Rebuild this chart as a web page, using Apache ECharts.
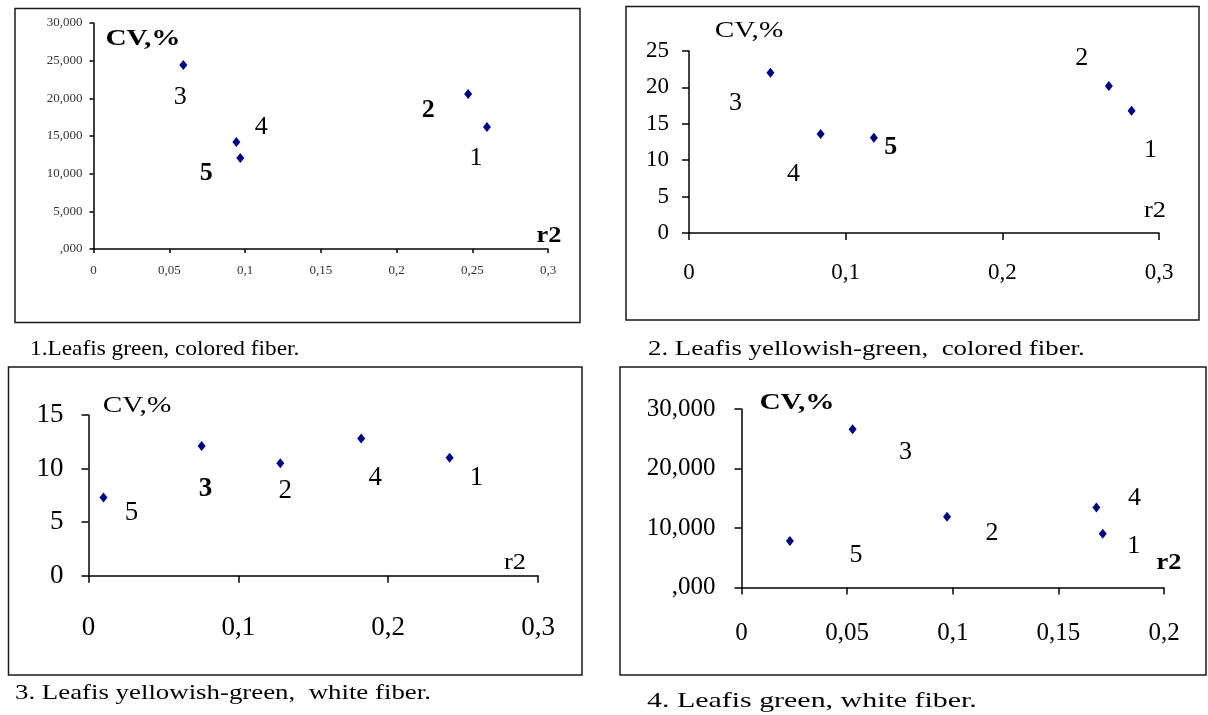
<!DOCTYPE html>
<html>
<head>
<meta charset="utf-8">
<script src="https://cdn.jsdelivr.net/npm/echarts@6/dist/echarts.min.js"></script>
<style>
  html, body { margin: 0; padding: 0; background: #fff; }
  #chart { width: 1208px; height: 715px; }
</style>
</head>
<body>
<div id="chart"></div>
<script>
// points are given in order 1..5
const pointNames = ['1', '2', '3', '4', '5']

// 1. leaf green, colored fiber
const x1 = [0.2597, 0.2473, 0.0593, 0.0943, 0.0969]
const y1 = [16.2, 20.575, 24.425, 14.2, 12.08]
// 2. leaf yellowish-green, colored fiber
const x2 = [0.2825, 0.268, 0.052, 0.084, 0.118]
const y2 = [16.8, 20.2, 22.0, 13.6, 13.1]
// 3. leaf yellowish-green, white fiber
const x3 = [0.241, 0.128, 0.0755, 0.182, 0.010]
const y3 = [11.0, 10.5, 12.1, 12.8, 7.3]
// 4. leaf green, white fiber
const x4 = [0.171, 0.0973, 0.0526, 0.168, 0.0229]
const y4 = [9.05, 11.9, 26.6, 13.45, 7.8]

// tick labels (decimal comma, as in the source)
const xTicks1 = ['0', '0,05', '0,1', '0,15', '0,2', '0,25', '0,3']
const yTicks1 = [',000', '5,000', '10,000', '15,000', '20,000', '25,000', '30,000']
const xTicks2 = ['0', '0,1', '0,2', '0,3']
const yTicks2 = ['0', '5', '10', '15', '20', '25']
const xTicks3 = ['0', '0,1', '0,2', '0,3']
const yTicks3 = ['0', '5', '10', '15']
const xTicks4 = ['0', '0,05', '0,1', '0,15', '0,2']
const yTicks4 = [',000', '10,000', '20,000', '30,000']

const captions = [
  '1.Leafis green, colored fiber.',
  '2. Leafis yellowish-green,  colored fiber.',
  '3. Leafis yellowish-green,  white fiber.',
  '4. Leafis green, white fiber.'
]

const FONT = '"Liberation Serif", "Times New Roman", serif'
const INK = '#000'
const DOT = '#000080'

// layout of each panel (pixels); the source text is drawn a bit wide, hence the stretch factors
const panels = [
  {
    xs: x1, ys: y1, xTicks: xTicks1, yTicks: yTicks1, xMax: 0.3, xInt: 0.05, yMax: 30, yInt: 5,
    grid: { left: 93.5, top: 23, width: 454.5, height: 226 },
    tickFont: 13, tickColor: '#333', xMargin: 15, yMargin: 11, tickLen: 4, labelFont: 26,
    offsets: [[-11, 31], [-40, 16], [-3, 32], [25, -15], [-34, 15]],
    bold: [false, true, false, false, true],
    box: [15, 8.5, 565, 314], caption: [30, 349, 1.06],
    cv: [143, 39, true], r2: [549, 236, true]
  },
  {
    xs: x2, ys: y2, xTicks: xTicks2, yTicks: yTicks2, xMax: 0.3, xInt: 0.1, yMax: 25, yInt: 5,
    grid: { left: 689, top: 51, width: 470, height: 182 },
    tickFont: 23, tickColor: INK, xMargin: 28, yMargin: 20, tickLen: 7, labelFont: 26,
    offsets: [[19, 39], [-27, -28], [-35, 30], [-27, 40], [17, 10]],
    bold: [false, false, false, false, true],
    box: [626, 6.5, 573, 313.5], caption: [648, 349, 1.22],
    cv: [749, 31, false], r2: [1155, 211, false]
  },
  {
    xs: x3, ys: y3, xTicks: xTicks3, yTicks: yTicks3, xMax: 0.3, xInt: 0.1, yMax: 15, yInt: 5,
    grid: { left: 88.5, top: 415, width: 449.5, height: 160.7 },
    tickFont: 27, tickColor: INK, xMargin: 39, yMargin: 25, tickLen: 7, labelFont: 27,
    offsets: [[27, 20], [5, 28], [4, 43], [14, 39], [28, 15]],
    bold: [false, false, true, false, false],
    box: [8.5, 367, 573.5, 308], caption: [15, 693, 1.22],
    cv: [137, 406, false], r2: [515, 563, false]
  },
  {
    xs: x4, ys: y4, xTicks: xTicks4, yTicks: yTicks4, xMax: 0.2, xInt: 0.05, yMax: 30, yInt: 10,
    grid: { left: 741.5, top: 409, width: 422.5, height: 178.5 },
    tickFont: 25, tickColor: INK, xMargin: 33, yMargin: 26, tickLen: 7, labelFont: 26,
    offsets: [[31, 13], [45, 16], [53, 23], [38, -9], [66, 14]],
    bold: [false, false, false, false, false],
    box: [620, 367, 586, 308], caption: [647, 701, 1.36],
    cv: [797, 403, true], r2: [1169, 563, true]
  }
]

const grids = []
const xAxes = []
const yAxes = []
const series = []
const graphics = []

function textItem(x, y, text, font, align, sx) {
  return {
    type: 'text', x: x, y: y, scaleX: sx, scaleY: 1, silent: true,
    style: {
      text: text, fill: INK, font: font,
      textAlign: align, textVerticalAlign: 'middle', align: align, verticalAlign: 'middle'
    }
  }
}

panels.forEach((p, i) => {
  grids.push(Object.assign({ outerBoundsMode: 'none', containLabel: false }, p.grid))

  const axisCommon = {
    gridIndex: i,
    type: 'value',
    min: 0,
    splitLine: { show: false },
    axisLine: { show: true, onZero: false, lineStyle: { color: '#000', width: 1.5 } },
    axisTick: { show: true, inside: false, length: p.tickLen, lineStyle: { color: '#000', width: 1.5 } }
  }
  xAxes.push(Object.assign({}, axisCommon, {
    max: p.xMax,
    interval: p.xInt,
    axisLabel: {
      margin: p.xMargin, fontFamily: FONT, fontSize: p.tickFont, color: p.tickColor,
      formatter: v => p.xTicks[Math.round(v / p.xInt)]
    }
  }))
  yAxes.push(Object.assign({}, axisCommon, {
    max: p.yMax,
    interval: p.yInt,
    axisLabel: {
      margin: p.yMargin, fontFamily: FONT, fontSize: p.tickFont, color: p.tickColor,
      formatter: v => p.yTicks[Math.round(v / p.yInt)]
    }
  }))

  series.push({
    type: 'scatter',
    xAxisIndex: i,
    yAxisIndex: i,
    symbol: 'diamond',
    symbolSize: [8, 10],
    itemStyle: { color: DOT, opacity: 1 },
    emphasis: { disabled: true },
    label: {
      show: true,
      position: 'inside',
      fontFamily: FONT,
      fontSize: p.labelFont,
      color: INK,
      opacity: 1,
      formatter: params => pointNames[params.dataIndex]
    },
    data: p.xs.map((x, k) => ({
      value: [x, p.ys[k]],
      label: { offset: p.offsets[k], fontWeight: p.bold[k] ? 'bold' : 'normal' }
    }))
  })

  graphics.push({
    type: 'rect',
    shape: { x: p.box[0], y: p.box[1], width: p.box[2], height: p.box[3] },
    style: { fill: 'none', stroke: '#1a1a1a', lineWidth: 1.5 }
  })
  graphics.push(textItem(p.caption[0], p.caption[1], captions[i], '22px ' + FONT, 'left', p.caption[2]))
  graphics.push(textItem(p.cv[0], p.cv[1], 'CV,%', (p.cv[2] ? 'bold ' : '') + '24px ' + FONT, 'center', 1.22))
  graphics.push(textItem(p.r2[0], p.r2[1], 'r2', (p.r2[2] ? 'bold ' : '') + '24px ' + FONT, 'center', 1.1))
})

const chart = echarts.init(document.getElementById('chart'), null, { renderer: 'canvas' })
chart.setOption({
  backgroundColor: '#fff',
  animation: false,
  grid: grids,
  xAxis: xAxes,
  yAxis: yAxes,
  series: series,
  graphic: graphics
})
</script>
</body>
</html>
